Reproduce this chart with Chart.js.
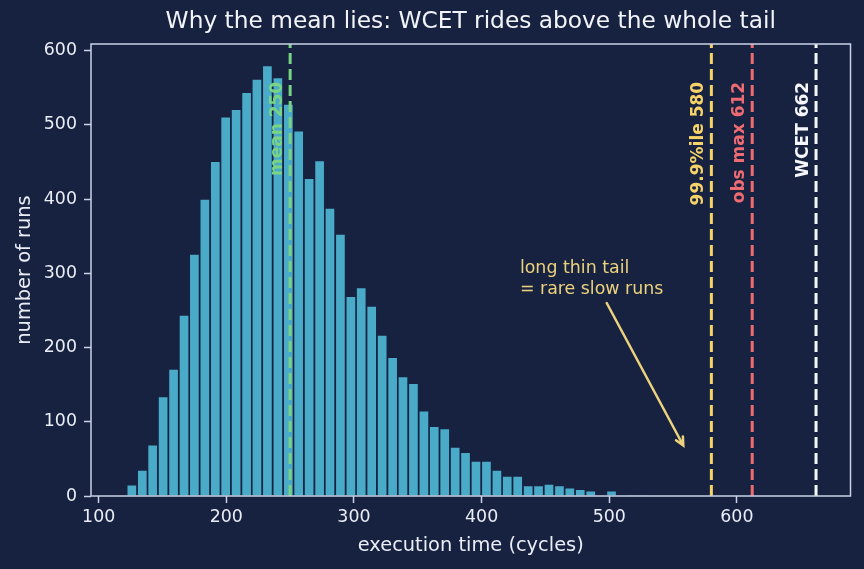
<!DOCTYPE html>
<html lang="en">
<head>
  <meta charset="UTF-8">
  <title>Why the mean lies</title>
  <script src="https://cdn.jsdelivr.net/npm/chart.js"></script>
  <style>
    html, body {
      margin: 0;
      padding: 0;
      background-color: #172241;
    }
  </style>
</head>
<body>
  <canvas id="grafico" width="864" height="569"></canvas>

  <script>
    // histogram bins (centre of each bin, cycles) and run counts
    var binCenters = [
      126.0, 134.2, 142.3, 150.5, 158.7, 166.9, 175.0, 183.2, 191.4, 199.5,
      207.7, 215.9, 224.0, 232.2, 240.4, 248.6, 256.7, 264.9, 273.1, 281.2,
      289.4, 297.6, 305.7, 313.9, 322.1, 330.3, 338.4, 346.6, 354.8, 362.9,
      371.1, 379.3, 387.4, 395.6, 403.8, 412.0, 420.1, 428.3, 436.5, 444.6,
      452.8, 461.0, 469.1, 477.3, 485.5, 493.7, 501.8, 510.0, 518.2, 526.3,
      534.5, 542.7, 550.8, 559.0, 567.2, 575.4, 583.5, 591.7, 599.9, 608.0
    ];
    var runCounts = [
      14, 34, 68, 133, 170, 243, 325, 399, 450, 510,
      520, 543, 561, 579, 563, 527, 491, 427, 451, 387,
      352, 268, 280, 255, 216, 186, 160, 151, 114, 93,
      90, 65, 58, 46, 46, 34, 26, 26, 13, 13,
      15, 13, 10, 8, 6, 0, 6, 0, 1, 1,
      0, 0, 0, 0, 0, 0, 0, 0, 0, 0
    ];
    var xTicks = [100, 200, 300, 400, 500, 600];
    var yTicks = [0, 100, 200, 300, 400, 500, 600];

    // reference lines
    var markerValues = [250, 580, 612, 662];
    var markerLabels = ['mean 250', '99.9%ile 580', 'obs max 612', 'WCET 662'];
    var markerColors = ['#78d384', '#f5d368', '#ef6b72', '#f5f7fb'];
    var markerLabelY = 558;

    // tail annotation (data coordinates)
    var noteLines = ['long thin tail', '= rare slow runs'];
    var noteAt = { x: 430, y: 300 };
    var arrowFrom = { x: 498, y: 260 };
    var arrowTo = { x: 558, y: 68 };

    var fondo = '#172241';
    var marco = '#c9d2e6';
    var texto = '#e9edf5';
    var familia = 'DejaVu Sans';

    var extras = {
      id: 'extras',
      beforeDraw: function (chart) {
        var ctx = chart.ctx;
        ctx.save();
        ctx.fillStyle = fondo;
        ctx.fillRect(0, 0, chart.width, chart.height);
        ctx.restore();
      },
      afterDatasetsDraw: function (chart) {
        var ctx = chart.ctx;
        var area = chart.chartArea;
        var xs = chart.scales.x;
        var ys = chart.scales.y;

        ctx.save();
        // dashed reference lines + rotated labels
        for (var i = 0; i < markerValues.length; i++) {
          var px = xs.getPixelForValue(markerValues[i]);
          ctx.strokeStyle = markerColors[i];
          ctx.lineWidth = 3;
          ctx.setLineDash([11, 5]);
          ctx.beginPath();
          ctx.moveTo(px, area.bottom);
          ctx.lineTo(px, area.top);
          ctx.stroke();

          ctx.save();
          ctx.translate(px - 4, ys.getPixelForValue(markerLabelY));
          ctx.rotate(-Math.PI / 2);
          ctx.fillStyle = markerColors[i];
          ctx.font = 'bold 17px "' + familia + '"';
          ctx.textAlign = 'right';
          ctx.textBaseline = 'bottom';
          ctx.fillText(markerLabels[i], 0, 0);
          ctx.restore();
        }
        ctx.setLineDash([]);

        // annotation text and arrow
        ctx.fillStyle = '#ecd27c';
        ctx.strokeStyle = '#ecd27c';
        ctx.font = '17.4px "' + familia + '"';
        ctx.textAlign = 'left';
        ctx.textBaseline = 'alphabetic';
        var tx = xs.getPixelForValue(noteAt.x);
        var ty = ys.getPixelForValue(noteAt.y);
        for (var j = 0; j < noteLines.length; j++) {
          ctx.fillText(noteLines[j], tx, ty + j * 21);
        }
        var ax = xs.getPixelForValue(arrowFrom.x), ay = ys.getPixelForValue(arrowFrom.y);
        var bx = xs.getPixelForValue(arrowTo.x), by = ys.getPixelForValue(arrowTo.y);
        ctx.lineWidth = 2.5;
        ctx.lineCap = 'round';
        ctx.beginPath();
        ctx.moveTo(ax, ay);
        ctx.lineTo(bx, by);
        var ang = Math.atan2(by - ay, bx - ax);
        var head = 9;
        ctx.moveTo(bx - head * Math.cos(ang - 0.45), by - head * Math.sin(ang - 0.45));
        ctx.lineTo(bx, by);
        ctx.lineTo(bx - head * Math.cos(ang + 0.45), by - head * Math.sin(ang + 0.45));
        ctx.stroke();

        // frame
        ctx.strokeStyle = marco;
        ctx.lineWidth = 1.5;
        ctx.lineCap = 'butt';
        ctx.strokeRect(area.left, area.top, area.right - area.left, area.bottom - area.top);

        // title centred over the plot area
        ctx.fillStyle = '#f2f4f9';
        ctx.font = '23.3px "' + familia + '"';
        ctx.textAlign = 'center';
        ctx.textBaseline = 'middle';
        ctx.fillText('Why the mean lies: WCET rides above the whole tail', (area.left + area.right) / 2, 22);
        ctx.restore();
      }
    };

    Chart.defaults.color = texto;
    Chart.defaults.font.family = familia;

    var puntos = binCenters.map(function (c, i) { return { x: c, y: runCounts[i] }; });

    var grafico = new Chart(document.getElementById('grafico'), {
      type: 'bar',
      data: {
        datasets: [{
          label: 'runs',
          data: puntos,
          backgroundColor: '#4aabc8',
          borderWidth: 0,
          barPercentage: 0.84,
          categoryPercentage: 1
        }]
      },
      options: {
        responsive: false,
        animation: false,
        layout: { padding: { top: 44, right: 13.5, left: 0, bottom: 0 } },
        plugins: {
          legend: { display: false },
          tooltip: { enabled: false }
        },
        scales: {
          x: {
            type: 'linear',
            min: 94,
            max: 689,
            offset: false,
            afterBuildTicks: function (s) { s.ticks = xTicks.map(function (v) { return { value: v }; }); },
            afterFit: function (s) { s.height = 73; },
            border: { display: false },
            grid: { drawOnChartArea: false, offset: false, color: marco, tickLength: 7, tickWidth: 1.5 },
            ticks: { font: { size: 17.4 }, padding: 4, maxRotation: 0, color: texto },
            title: { display: true, text: 'execution time (cycles)', font: { size: 19.4 }, padding: { top: 0, bottom: 11 }, color: texto }
          },
          y: {
            min: 0,
            max: 609,
            afterBuildTicks: function (s) { s.ticks = yTicks.map(function (v) { return { value: v }; }); },
            afterFit: function (s) { s.width = 91; },
            border: { display: false },
            grid: { drawOnChartArea: false, color: marco, tickLength: 7, tickWidth: 1.5 },
            ticks: { font: { size: 17.4 }, padding: 7, color: texto },
            title: { display: true, text: 'number of runs', font: { size: 19.4 }, padding: { top: 13, bottom: 0 }, color: texto }
          }
        }
      },
      plugins: [extras]
    });
  </script>
</body>
</html>
